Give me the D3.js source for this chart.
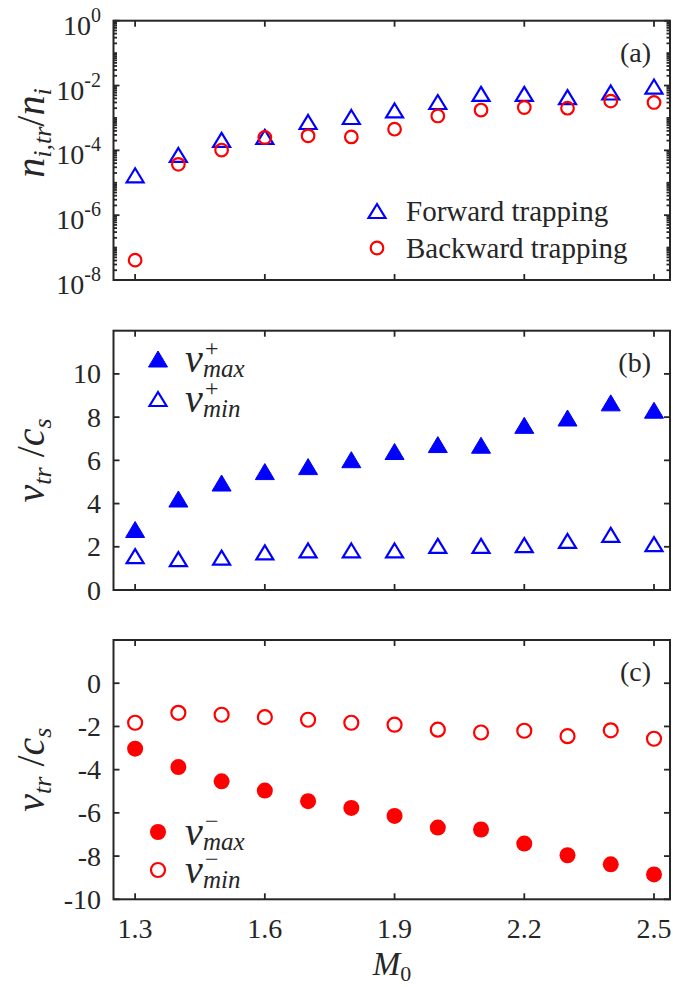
<!DOCTYPE html>
<html>
<head>
<meta charset="utf-8">
<script src="https://cdn.jsdelivr.net/npm/d3@7"></script>
</head>
<body style="margin:0">
<svg id="chart" width="673" height="987"></svg>
<script>
// Mach number of the incoming flow
const M0 = [1.3, 1.4, 1.5, 1.6, 1.7, 1.8, 1.9, 2.0, 2.1, 2.2, 2.3, 2.4, 2.5];

// (a) trapped ion density fraction n_{i,tr}/n_i
const forwardTrapping  = [1.7e-5, 7.2e-5, 2.1e-4, 2.6e-4, 7.5e-4, 1.07e-3, 1.7e-3, 3.1e-3, 5.5e-3, 5.5e-3, 4.4e-3, 6.1e-3, 9.3e-3];
const backwardTrapping = [4.1e-8, 3.7e-5, 1.02e-4, 2.5e-4, 2.8e-4, 2.6e-4, 4.5e-4, 1.15e-3, 1.75e-3, 2.1e-3, 2.0e-3, 3.3e-3, 3.0e-3];

// (b) forward trapped velocities v_tr/c_s
const vMaxPlus = [2.80, 4.21, 4.95, 5.48, 5.71, 6.03, 6.41, 6.73, 6.70, 7.62, 7.96, 8.66, 8.32];
const vMinPlus = [1.57, 1.43, 1.50, 1.74, 1.83, 1.83, 1.83, 2.04, 2.04, 2.08, 2.27, 2.55, 2.12];

// (c) backward trapped velocities v_tr/c_s
const vMaxMinus = [-3.03, -3.88, -4.54, -4.97, -5.46, -5.77, -6.14, -6.68, -6.77, -7.42, -7.96, -8.38, -8.85];
const vMinMinus = [-1.83, -1.37, -1.46, -1.57, -1.69, -1.83, -1.92, -2.15, -2.28, -2.20, -2.45, -2.18, -2.57];

// tick values
const xTicks = [1.3, 1.6, 1.9, 2.2, 2.5];
const logTickExponents = [0, -2, -4, -6, -8];
const bTicks = [0, 2, 4, 6, 8, 10];
const cTicks = [-10, -8, -6, -4, -2, 0];

const BLUE = "#0000ff", RED = "#ff0000", AX = "#262626";
const faceName = ["Liberation", "Serif"].join(" ");

const svg = d3.select("#chart");
const left = 113.5, right = 670;
const x = d3.scaleLinear().domain([1.25, 2.537]).range([left, right]);

// text helper: serif face everywhere
function txt(g, size) {
  return g.append("text").attr("font-size", size)
    .style("font-family", `"${faceName}"`)
    .attr("fill", AX);
}

// marker path generators (centered at 0,0)
function triPath(w, h) {
  return `M0,${-h/2}L${w/2},${h/2}L${-w/2},${h/2}Z`;
}
function drawMarker(g, type, cx, cy, color, filled, size) {
  if (type === "tri") {
    g.append("path")
      .attr("d", triPath(size.w, size.h))
      .attr("transform", `translate(${cx},${cy})`)
      .attr("fill", filled ? color : "none")
      .attr("stroke", color)
      .attr("stroke-width", filled ? 1 : 2.2)
      .attr("stroke-linejoin", "miter");
  } else {
    g.append("circle")
      .attr("cx", cx).attr("cy", cy)
      .attr("r", filled ? size.r + 0.6 : size.r)
      .attr("fill", filled ? color : "none")
      .attr("stroke", filled ? "none" : color)
      .attr("stroke-width", 2.2);
  }
}

function frame(g, top, bottom) {
  g.append("rect")
    .attr("x", left).attr("y", top)
    .attr("width", right - left).attr("height", bottom - top)
    .attr("fill", "none").attr("stroke", AX).attr("stroke-width", 2);
  // x ticks, inward on bottom and top
  xTicks.forEach(t => {
    const px = x(t);
    g.append("line").attr("x1", px).attr("x2", px).attr("y1", bottom).attr("y2", bottom - 6)
      .attr("stroke", AX).attr("stroke-width", 1.8);
    g.append("line").attr("x1", px).attr("x2", px).attr("y1", top).attr("y2", top + 6)
      .attr("stroke", AX).attr("stroke-width", 1.8);
  });
}

function yTick(g, py, len) {
  g.append("line").attr("x1", left).attr("x2", left + len).attr("y1", py).attr("y2", py)
    .attr("stroke", AX).attr("stroke-width", 1.8);
  g.append("line").attr("x1", right).attr("x2", right - len).attr("y1", py).attr("y2", py)
    .attr("stroke", AX).attr("stroke-width", 1.8);
}

function panelTag(g, label, cy) {
  txt(g, 28).attr("x", 651).attr("y", cy + 9).attr("text-anchor", "end").text(label);
}

// ---------- panel (a) ----------
{
  const top = 20.7, bottom = 280;
  const g = svg.append("g");
  const y = d3.scaleLog().domain([1e-8, 1]).range([bottom, top]);

  // minor ticks: every integer multiple within each decade
  for (let e = -8; e < 0; e++) {
    for (let m = 2; m <= 9; m++) yTick(g, y(m * Math.pow(10, e)), 3.5);
    if (e % 2 !== 0) yTick(g, y(Math.pow(10, e)), 3.5);
  }
  logTickExponents.forEach(e => {
    const py = y(Math.pow(10, e));
    yTick(g, py, 6);
    const t = txt(g, 28).attr("x", 101).attr("y", py + 14).attr("text-anchor", "end");
    t.append("tspan").text("10");
    t.append("tspan").attr("font-size", 20).attr("dy", -13).text(e === 0 ? "0" : "-" + (-e));
  });

  M0.forEach((m, i) => drawMarker(g, "tri", x(m), y(forwardTrapping[i]), BLUE, false, {w: 17, h: 14}));
  M0.forEach((m, i) => drawMarker(g, "circ", x(m), y(backwardTrapping[i]), RED, false, {r: 6.3}));

  frame(g, top, bottom);
  panelTag(g, "(a)", 53);

  // legend
  drawMarker(g, "tri", 377, 211, BLUE, false, {w: 17, h: 14});
  txt(g, 29).attr("x", 406).attr("y", 221).text("Forward trapping");
  drawMarker(g, "circ", 377, 248, RED, false, {r: 6.3});
  txt(g, 29).attr("x", 406).attr("y", 258).text("Backward trapping");

  // y label
  const yl = txt(g, 40).attr("transform", "translate(44,133) rotate(-90)")
    .attr("text-anchor", "middle").style("font-style", "italic");
  yl.append("tspan").text("n");
  yl.append("tspan").attr("font-size", 26).attr("dy", 7).text("i,tr");
  yl.append("tspan").attr("dy", -7).style("font-style", "normal").text("/");
  yl.append("tspan").text("n");
  yl.append("tspan").attr("font-size", 26).attr("dy", 7).text("i");
}

// linear panels share the same tick/label code
function linearPanel(top, bottom, domain, ticks, series, legendY, tag) {
  const g = svg.append("g");
  const y = d3.scaleLinear().domain(domain).range([bottom, top]);
  ticks.forEach(t => {
    const py = y(t);
    yTick(g, py, 6);
    txt(g, 28).attr("x", 101).attr("y", py + 9.5).attr("text-anchor", "end").text(t);
  });
  series.forEach(s => {
    M0.forEach((m, i) => drawMarker(g, s.type, x(m), y(s.values[i]), s.color, s.filled, s.size));
  });
  frame(g, top, bottom);
  panelTag(g, tag, top + 32);

  // legend: marker, then v with stacked superscript and subscript
  series.forEach((s, k) => {
    const cy = legendY[k];
    drawMarker(g, s.type, 158, cy, s.color, s.filled, s.size);
    const t = txt(g, 40).attr("x", 185).attr("y", cy + 13).style("font-style", "italic");
    t.append("tspan").text("v");
    t.append("tspan").attr("x", 205).attr("dy", -16).attr("font-size", 24)
      .style("font-style", "normal").text(s.sup);
    t.append("tspan").attr("x", 203).attr("dy", 21).attr("font-size", 25).text(s.sub);
  });

  // y label
  const cy = (top + bottom) / 2;
  const yl = txt(g, 40).attr("transform", `translate(44,${cy}) rotate(-90)`)
    .attr("text-anchor", "middle").style("font-style", "italic");
  yl.append("tspan").text("v");
  yl.append("tspan").attr("font-size", 26).attr("dy", 7).text("tr");
  yl.append("tspan").attr("dy", -7).style("font-style", "normal").text(" /");
  yl.append("tspan").text("c");
  yl.append("tspan").attr("font-size", 26).attr("dy", 7).text("s");
  return g;
}

// ---------- panel (b) ----------
linearPanel(330.7, 590, [0, 12], bTicks, [
  {type: "tri", values: vMaxPlus, color: BLUE, filled: true, size: {w: 19, h: 16}, sup: "+", sub: "max"},
  {type: "tri", values: vMinPlus, color: BLUE, filled: false, size: {w: 17, h: 14}, sup: "+", sub: "min"}
], [359, 399], "(b)");

// ---------- panel (c) ----------
const gc = linearPanel(640, 899.3, [-10, 2], cTicks, [
  {type: "circ", values: vMaxMinus, color: RED, filled: true, size: {r: 7.4}, sup: "\u2212", sub: "max"},
  {type: "circ", values: vMinMinus, color: RED, filled: false, size: {r: 7}, sup: "\u2212", sub: "min"}
], [832, 870], "(c)");

// x tick labels and axis title under the bottom panel
xTicks.forEach(t => {
  txt(gc, 28).attr("x", x(t)).attr("y", 938).attr("text-anchor", "middle")
    .text(d3.format(".1f")(t));
});
const xl = txt(gc, 33).attr("x", 392).attr("y", 975).attr("text-anchor", "middle")
  .style("font-style", "italic");
xl.append("tspan").text("M");
xl.append("tspan").attr("font-size", 22).attr("dy", 6).style("font-style", "normal").text("0");
</script>
</body>
</html>
